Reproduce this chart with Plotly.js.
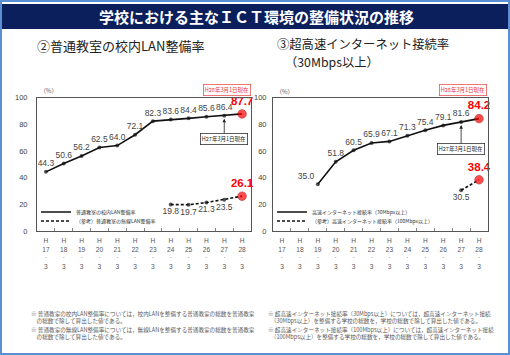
<!DOCTYPE html>
<html>
<head>
<meta charset="utf-8">
<script src="https://cdn.plot.ly/plotly-3.0.1.min.js"></script>
<style>html,body{margin:0;padding:0;background:#fff;}#chart{width:510px;height:355px;}</style>
</head>
<body>
<div id="chart"></div>
<script>
// ---- data ----
const categories = ['H17.3','H18.3','H19.3','H20.3','H21.3','H22.3','H23.3','H24.3','H25.3','H26.3','H27.3','H28.3'];
const tickLabels = ['H<br>17<br>·<br>3','H<br>18<br>·<br>3','H<br>19<br>·<br>3','H<br>20<br>·<br>3','H<br>21<br>·<br>3','H<br>22<br>·<br>3','H<br>23<br>·<br>3','H<br>24<br>·<br>3','H<br>25<br>·<br>3','H<br>26<br>·<br>3','H<br>27<br>·<br>3','H<br>28<br>·<br>3'];

const lanYears = ['H17.3','H18.3','H19.3','H20.3','H21.3','H22.3','H23.3','H24.3','H25.3','H26.3','H27.3','H28.3'];
const lanValues = [44.3, 50.6, 56.2, 62.5, 64.0, 72.1, 82.3, 83.6, 84.4, 85.6, 86.4, 87.7];
const wlanYears = ['H24.3','H25.3','H26.3','H27.3','H28.3'];
const wlanValues = [19.8, 19.7, 21.3, 23.5, 26.1];

const netYears = ['H19.3','H20.3','H21.3','H22.3','H23.3','H24.3','H25.3','H26.3','H27.3','H28.3'];
const netValues = [35.0, 51.8, 60.5, 65.9, 67.1, 71.3, 75.4, 79.1, 81.6, 84.2];
const net100Years = ['H27.3','H28.3'];
const net100Values = [30.5, 38.4];

const lanName = '普通教室の校内LAN整備率';
const wlanName = '（参考）普通教室の無線LAN整備率';
const netName = '高速インターネット接続率（30Mbps以上）';
const net100Name = '（参考）高速インターネット接続率（100Mbps以上）';

// ---- helpers ----
const W = 510, H = 355;
const px = x => x / W;
const py = y => 1 - y / H;
const NUM = '"Liberation Sans", Arial, sans-serif';
const JP = '"Noto Sans CJK JP", "Noto Sans", sans-serif';

function lineTrace(xs, ys, name, dash, xa, ya, leg) {
  return {x: xs, y: ys, type: 'scatter', mode: 'lines', name: name,
    xaxis: xa, yaxis: ya, legend: leg, showlegend: true,
    line: {color: '#111', width: 1.6, dash: dash}, hoverinfo: 'skip'};
}
function pointTrace(xs, ys, xa, ya, posNormal, posFirst) {
  const n = ys.length;
  return {x: xs, y: ys, type: 'scatter', mode: 'markers+text', showlegend: false,
    xaxis: xa, yaxis: ya, cliponaxis: false,
    marker: {size: ys.map((v,i) => i === n-1 ? 8.5 : 4),
             color: ys.map((v,i) => i === n-1 ? '#ff0000' : '#111'),
             line: {width: ys.map((v,i) => i === n-1 ? 0.8 : 0), color: '#a00000'}},
    text: ys.map(v => v.toFixed(1)),
    textposition: ys.map((v,i) => i === n-1 ? 'top center' : (i === 0 && posFirst ? posFirst : posNormal)),
    textfont: {family: NUM,
      size: ys.map((v,i) => i === n-1 ? 11.5 : 8.5),
      color: ys.map((v,i) => i === n-1 ? '#ff0000' : '#444'),
      weight: ys.map((v,i) => i === n-1 ? 700 : 400)},
    hoverinfo: 'skip'};
}

const data = [
  lineTrace(lanYears, lanValues, lanName, 'solid', 'x', 'y', 'legend'),
  lineTrace(wlanYears, wlanValues, wlanName, '3px,2px', 'x', 'y', 'legend2'),
  pointTrace(lanYears, lanValues, 'x', 'y', 'top center'),
  pointTrace(wlanYears, wlanValues, 'x', 'y', 'bottom center'),
  lineTrace(netYears, netValues, netName, 'solid', 'x2', 'y2', 'legend3'),
  lineTrace(net100Years, net100Values, net100Name, '3px,2px', 'x2', 'y2', 'legend4'),
  pointTrace(netYears, netValues, 'x2', 'y2', 'top center', 'top left'),
  pointTrace(net100Years, net100Values, 'x2', 'y2', 'bottom center')
];

function xAxis(dom, anchor) {
  return {domain: dom, anchor: anchor, type: 'category', categoryorder: 'array',
    categoryarray: categories, range: [-0.5, 11.5], tickmode: 'array',
    tickvals: categories, ticktext: tickLabels, tickson: 'boundaries',
    ticks: 'inside', ticklen: 3, tickcolor: '#666', tickwidth: 0.8,
    showline: true, mirror: true, linecolor: '#555', linewidth: 1,
    showgrid: false, zeroline: false, fixedrange: true,
    tickfont: {family: NUM, size: 6.6, color: '#555'}, ticklabelstandoff: 3};
}
function yAxis(dom, anchor, standoff) {
  return {domain: dom, anchor: anchor, range: [0, 100], dtick: 20, tick0: 0,
    ticks: '', showline: true, mirror: true, linecolor: '#555', linewidth: 1,
    showgrid: false, zeroline: false, fixedrange: true,
    tickfont: {family: NUM, size: 7.5, color: '#444'}, ticklabelstandoff: standoff};
}

const yDom = [py(231), py(97.5)];
function legendAt(x, y) {
  return {x: px(x), y: py(y), xanchor: 'left', yanchor: 'middle',
    bgcolor: 'rgba(0,0,0,0)', borderwidth: 0, itemwidth: 30,
    font: {family: JP, size: 5, color: '#333'}, itemclick: false, itemdoubleclick: false};
}

function note(x, y, text, size) {
  return {xref: 'paper', yref: 'paper', x: px(x), y: py(y), xanchor: 'left', yanchor: 'middle',
    align: 'left', text: text, showarrow: false, font: {family: JP, size: size || 5.6, color: '#5a5a5a'}};
}
function stamp(x, y, text) {
  return {xref: 'paper', yref: 'paper', x: px(x), y: py(y), xanchor: 'right', yanchor: 'middle',
    text: text, showarrow: false, font: {family: JP, size: 5.5, color: '#ee3333'},
    bordercolor: '#ee5555', borderwidth: 0.8, borderpad: 1, bgcolor: '#fff'};
}
function pointer(xa, ya, xcat, yval, ayPx) {
  return {xref: xa, yref: ya, x: xcat, y: yval, ax: 0, ay: ayPx, text: 'H27年3月1日現在',
    showarrow: true, arrowhead: 2, arrowsize: 0.9, arrowwidth: 0.8, arrowcolor: '#222', standoff: 3,
    font: {family: JP, size: 5.5, color: '#222'}, bordercolor: '#333', borderwidth: 0.8,
    borderpad: 1, bgcolor: '#fff'};
}
function heading(x, y, text, size) {
  return {xref: 'paper', yref: 'paper', x: px(x), y: py(y), xanchor: 'left', yanchor: 'middle',
    text: text, showarrow: false, font: {family: JP, size: size, color: '#222'}};
}

const layout = {
  width: W, height: H, margin: {l: 0, r: 0, t: 0, b: 0, pad: 0},
  paper_bgcolor: '#fff', plot_bgcolor: '#fff',
  xaxis: xAxis([px(37), px(251)], 'y'),
  yaxis: yAxis(yDom, 'x', 7),
  xaxis2: xAxis([px(273), px(488)], 'y2'),
  yaxis2: yAxis(yDom, 'x2', 4),
  legend: legendAt(36, 212),
  legend2: legendAt(36, 221),
  legend3: legendAt(272, 212),
  legend4: legendAt(272, 221),
  shapes: [
    {type: 'rect', xref: 'paper', yref: 'paper', x0: px(1), x1: px(509), y0: py(354), y1: py(1),
     line: {color: '#5b8fd3', width: 2}, fillcolor: 'rgba(0,0,0,0)', layer: 'below'},
    {type: 'rect', xref: 'paper', yref: 'paper', x0: px(2), x1: px(508), y0: py(29), y1: py(4),
     line: {width: 0}, fillcolor: '#0b1f5c', layer: 'below'}
  ],
  annotations: [
    {xref: 'paper', yref: 'paper', x: px(256), y: py(16.5), xanchor: 'center', yanchor: 'middle',
     text: '<b>学校における主なＩＣＴ環境の整備状況の推移</b>', showarrow: false,
     font: {family: JP, size: 15, color: '#fff'}},
    heading(35, 45, '②普通教室の校内LAN整備率', 13),
    heading(275, 43.5, '③超高速インターネット接続率', 12.3),
    heading(283, 61.5, '（30Mbps以上）', 12.3),
    note(38, 90, '（%）', 6),
    note(274, 91, '（%）', 6),
    stamp(251, 90, 'H28年3月1日現在'),
    stamp(487, 90, 'H28年3月1日現在'),
    pointer('x', 'y', 'H27.3', 86.4, 23),
    pointer('x2', 'y2', 'H27.3', 81.6, 27),
    note(29, 317.5, '※ 普通教室の校内LAN整備率については，校内LANを整備する普通教室の総数を普通教室<br>　の総数で除して算出した値である。'),
    note(29, 333.5, '※ 普通教室の無線LAN整備率については，無線LANを整備する普通教室の総数を普通教室<br>　の総数で除して算出した値である。'),
    note(266, 317.5, '※ 超高速インターネット接続率（30Mbps以上）については，超高速インターネット接続<br>　（30Mbps以上）を整備する学校の総数を，学校の総数で除して算出した値である。'),
    note(266, 333.5, '※ 超高速インターネット接続率（100Mbps以上）については，超高速インターネット接続<br>　（100Mbps以上）を整備する学校の総数を，学校の総数で除して算出した値である。')
  ]
};

Plotly.newPlot('chart', data, layout, {displayModeBar: false, staticPlot: true});
</script>
</body>
</html>
